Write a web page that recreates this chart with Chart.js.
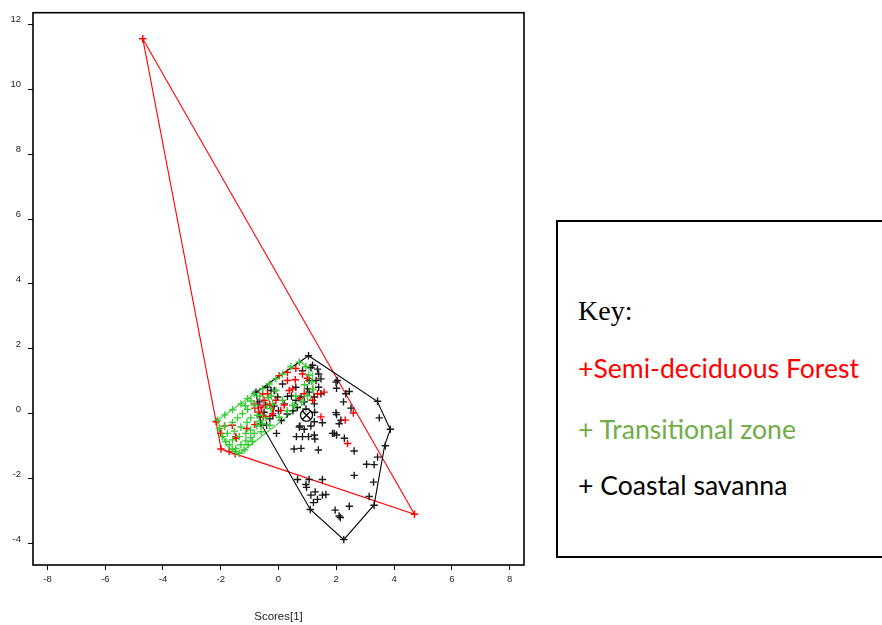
<!DOCTYPE html>
<html>
<head>
<meta charset="utf-8">
<script src="https://cdn.jsdelivr.net/npm/chart.js@4/dist/chart.umd.min.js"></script>
<style>
  html, body { margin: 0; padding: 0; background: #fff; }
  body { width: 882px; height: 625px; position: relative; overflow: hidden; }
  #plotWrap { position: absolute; left: 0; top: 0; width: 540px; height: 625px; }
  #keyBox { position: absolute; left: 556px; top: 220px; width: 340px; height: 338px;
            border: 2px solid #000; box-sizing: border-box; }
  .key { position: absolute; left: 578px; white-space: nowrap; line-height: 1; }
  #keyTitle { font-family: "Liberation Serif", serif; font-size: 28px; top: 297px; color: #000; }
  .item { font-family: Lato, sans-serif; font-size: 26.6px; }
</style>
</head>
<body>
<div id="plotWrap"><canvas id="pcaChart"></canvas></div>
<div id="keyBox"></div>
<div class="key" id="keyTitle">Key:</div>
<div class="key item" style="top:355px;color:#ff0000">+Semi-deciduous Forest</div>
<div class="key item" style="top:416px;color:#70ad47">+ Transitional zone</div>
<div class="key item" style="top:472px;color:#000">+ Coastal savanna</div>

<script>
// Score plot: PC1 (x) vs PC2 (y), three zones with convex hulls

var xTicks = [-8, -6, -4, -2, 0, 2, 4, 6, 8];
var yTicks = [-4, -2, 0, 2, 4, 6, 8, 10, 12];

// Semi-deciduous Forest (red)
var forestPts = [
    [-4.70, 11.55], [4.71, -3.09], [-2.16, -0.24], [-1.99, -1.08], [-1.50, -1.23], [-1.71, -1.16],
    [-2.00, -0.60], [-1.87, -0.37], [-1.48, -0.70], [-1.46, -0.75], [-0.82, -0.33], [-0.82, 0.18],
    [-0.84, 0.31], [-0.50, 0.42], [-0.55, 0.62], [-0.38, 0.62], [-0.61, 0.21], [-0.21, 0.01],
    [0.08, 0.11], [-0.09, 0.42], [0.20, 0.27], [0.02, 1.18], [0.31, 1.28], [0.31, 1.03],
    [0.58, 1.05], [0.83, 1.23], [0.37, 0.72], [0.49, 0.77], [0.89, 0.62], [0.72, 0.47],
    [1.18, 0.42], [1.35, 0.62], [1.58, 0.67], [1.47, -0.09], [2.59, 0.03], [2.31, -0.19],
    [2.39, -0.91], [-0.53, -0.09], [-1.10, -0.45], [-0.30, 0.30], [0.60, 1.40], [1.00, 1.10],
    [-1.60, -0.35], [-0.70, 0.05]
];

// Transitional zone (green)
var transPts = [
    [-2.11, -0.19], [-1.86, -0.03], [-1.59, 0.13], [-1.30, 0.31], [-1.07, 0.47], [-0.84, 0.62],
    [-0.55, 0.77], [-0.32, 0.92], [-0.09, 1.08], [0.14, 1.22], [0.43, 1.45], [0.72, 1.59],
    [-1.86, -0.37], [-1.59, -0.26], [-1.42, -0.12], [-1.25, 0.01], [-1.07, 0.14], [-0.84, 0.27],
    [-1.77, -0.60], [-1.53, -0.53], [-1.30, -0.40], [-1.09, -0.26], [-0.96, -0.12], [-0.73, -0.04],
    [-1.82, -0.85], [-1.59, -0.80], [-1.36, -0.70], [-1.13, -0.60], [-0.96, -0.50], [-0.75, -0.37],
    [-0.55, -0.30], [-1.48, -1.06], [-1.30, -0.95], [-1.13, -0.83], [-0.96, -0.73], [-0.84, -0.60],
    [-1.48, -1.16], [-1.36, -1.21], [-1.19, -1.11], [-1.05, -0.95], [-0.90, -0.85], [-0.55, -0.04],
    [-0.44, -0.12], [-0.67, -0.22], [-0.26, 0.16], [-2.05, -0.45], [-1.95, -0.70], [-1.70, -0.95],
    [-1.60, -1.10], [-0.09, 0.72], [0.14, 0.42], [1.00, 0.55], [0.49, 0.27], [0.30, 0.10],
    [0.60, 0.55], [0.90, 0.90], [1.15, 1.00], [1.18, 0.75], [-0.20, 0.30], [-0.35, 0.50],
    [0.02, -0.10], [-0.30, -0.35], [-0.60, -0.55], [0.55, 0.25], [0.80, 0.38], [-1.15, 0.25],
    [-0.95, 0.40], [-0.65, 0.55], [-0.40, 0.25], [-0.25, 0.55], [1.05, 1.20], [0.95, 1.45]
];

// Coastal savanna (black)
var coastPts = [
    [1.04, 1.79], [1.35, 1.38], [1.39, 1.23], [1.12, 1.43], [0.83, 1.33], [1.18, 1.50],
    [1.47, 1.08], [1.06, 1.03], [1.30, 1.03], [0.14, 0.92], [0.60, 0.82], [1.00, 0.77],
    [1.39, 0.82], [0.31, 0.54], [0.78, 0.52], [1.06, 0.67], [1.24, 0.52], [1.47, 0.62],
    [2.04, 1.03], [-0.15, 0.72], [-0.03, 0.52], [0.60, 0.42], [0.89, 0.37], [-0.38, 0.82],
    [-0.26, 0.72], [-0.67, 0.37], [-0.44, 0.27], [-0.15, 0.24], [0.20, 0.31], [1.24, 0.31],
    [-0.07, -0.60], [0.72, -0.40], [1.24, -0.24], [1.52, -0.27], [1.87, -0.60], [0.83, -0.70],
    [1.24, -0.65], [1.99, 0.98], [2.01, 0.79], [2.33, 0.62], [2.45, 0.69], [2.25, 0.37],
    [2.51, 0.18], [1.99, 0.04], [2.01, -0.02], [2.16, -0.19], [3.43, 0.39], [3.49, -0.12],
    [3.87, -0.47], [0.74, -0.37], [0.89, -0.47], [1.12, -0.37], [2.10, -0.30], [0.62, -0.70],
    [1.04, -0.70], [1.26, -0.77], [1.93, -0.60], [2.01, -0.65], [2.28, -0.75], [0.54, -1.08],
    [0.78, -1.06], [1.38, -1.11], [2.62, -1.14], [3.05, -1.55], [3.31, -1.56], [3.43, -1.33],
    [3.70, -0.98], [2.62, -1.89], [0.66, -2.02], [1.06, -2.02], [1.52, -2.02], [0.95, -2.17],
    [0.97, -2.26], [1.12, -2.50], [1.27, -2.40], [1.52, -2.50], [1.64, -2.48], [1.21, -2.73],
    [1.35, -2.63], [3.14, -2.54], [3.29, -2.10], [1.96, -2.96], [2.45, -2.84], [2.10, -3.14],
    [2.14, -3.19], [1.10, -2.94], [2.26, -3.87], [3.31, -2.81], [-0.61, -0.30], [-0.78, 0.67],
    [-0.41, -0.35], [-0.64, -0.09], [-0.30, -0.15], [0.10, -0.20], [0.30, 0.00], [0.50, 0.10],
    [0.00, 0.10], [-0.20, -0.05], [0.45, 0.55], [0.95, 0.15], [1.25, 0.05], [0.65, 0.20],
    [-0.50, 0.05]
];

// convex hull outlines (closed)
var forestHull = [[-4.70, 11.55], [-2.16, -0.24], [-1.99, -1.08], [-1.50, -1.23], [4.71, -3.09], [-4.70, 11.55]];
var transHull = [[-2.11, -0.19], [0.75, 1.62], [1.17, 1.30], [1.22, 0.55], [-1.40, -1.25], [-1.80, -0.98], [-2.11, -0.19]];
var coastHull = [[1.04, 1.79], [3.42, 0.39], [3.87, -0.48], [3.68, -0.95], [3.31, -2.80], [2.26, -3.87], [1.10, -2.94], [-0.61, -0.30], [-0.78, 0.67], [1.04, 1.79]];

// group centres
var coastCentre = [[0.97, -0.04]];
var forestCentre = [[-0.38, 0.11]];

function toXY(list) {
    return list.map(function(p) { return { x: p[0], y: p[1] }; });
}

function pointSet(list, color, order) {
    return {
        data: toXY(list),
        pointStyle: 'cross',
        pointRadius: 3.7,
        pointBorderWidth: 1.4,
        borderColor: color,
        backgroundColor: color,
        showLine: false,
        order: order
    };
}

function hullSet(list, color, order) {
    return {
        data: toXY(list),
        showLine: true,
        pointRadius: 0,
        borderWidth: 1.1,
        borderColor: color,
        backgroundColor: color,
        fill: false,
        order: order
    };
}

var framePlugin = {
    id: 'frame',
    afterDraw: function(chart) {
        var a = chart.chartArea;
        var ctx = chart.ctx;
        ctx.save();
        ctx.strokeStyle = '#000';
        ctx.lineWidth = 1.6;
        ctx.strokeRect(a.left, a.top, a.right - a.left, a.bottom - a.top);
        ctx.restore();
    }
};

var tickFont = { family: 'Liberation Sans', size: 9.5 };

new Chart(document.getElementById('pcaChart'), {
    type: 'scatter',
    data: {
        datasets: [
            hullSet(forestHull, '#ff0000', 9),
            hullSet(transHull, '#33cc33', 8),
            hullSet(coastHull, '#000000', 7),
            pointSet(coastPts, '#1a1a1a', 6),
            pointSet(forestPts, '#ff0000', 5),
            pointSet(transPts, '#33cc33', 4),
            {
                data: toXY(coastCentre), pointStyle: 'circle', pointRadius: 6, pointBorderWidth: 1.2,
                borderColor: '#000', backgroundColor: 'rgba(255,255,255,0.6)', order: 2
            },
            {
                data: toXY(coastCentre), pointStyle: 'crossRot', pointRadius: 6, pointBorderWidth: 1.2,
                borderColor: '#000', backgroundColor: '#000', order: 1
            },
            {
                data: toXY(forestCentre), pointStyle: 'circle', pointRadius: 6, pointBorderWidth: 1.2,
                borderColor: '#ff0000', backgroundColor: 'rgba(0,0,0,0)', order: 3
            }
        ]
    },
    options: {
        responsive: true,
        maintainAspectRatio: false,
        animation: false,
        events: [],
        layout: { padding: { left: 0, right: 16, top: 8, bottom: 0 } },
        plugins: { legend: { display: false }, tooltip: { enabled: false } },
        scales: {
            x: {
                type: 'linear',
                min: -8.5,
                max: 8.5,
                afterBuildTicks: function(scale) {
                    scale.ticks = xTicks.map(function(v) { return { value: v }; });
                },
                afterFit: function(scale) { scale.height = 60; },
                border: { display: false },
                grid: { drawOnChartArea: false, tickLength: 5, color: '#000', lineWidth: 1 },
                ticks: { font: tickFont, color: '#222', padding: 4, maxRotation: 0 },
                title: {
                    display: true,
                    text: 'Scores[1]',
                    font: { family: 'Liberation Sans', size: 11.5 },
                    color: '#222',
                    padding: { top: 0, bottom: 1 }
                }
            },
            y: {
                type: 'linear',
                min: -4.65,
                max: 12.35,
                afterBuildTicks: function(scale) {
                    scale.ticks = yTicks.map(function(v) { return { value: v }; });
                },
                afterFit: function(scale) { scale.width = 33; },
                border: { display: false },
                grid: { drawOnChartArea: false, tickLength: 5, color: '#000', lineWidth: 1 },
                ticks: { font: tickFont, color: '#222', padding: 7, labelOffset: -5 }
            }
        }
    },
    plugins: [framePlugin]
});
</script>
</body>
</html>
